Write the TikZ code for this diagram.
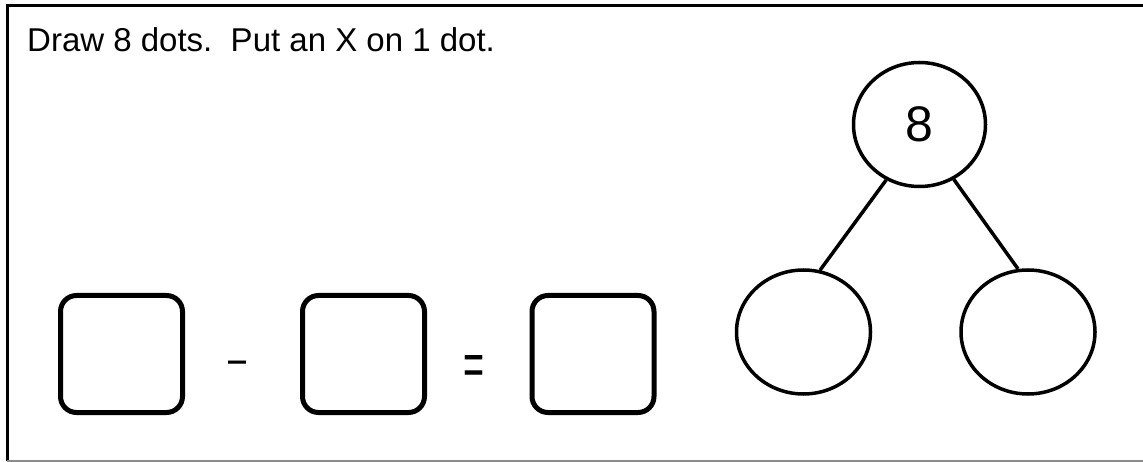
\documentclass[tikz,border=0pt]{standalone}
\usepackage{fontspec}
\setmainfont{Liberation Sans}
\usetikzlibrary{shapes.geometric}
\begin{document}
\begin{tikzpicture}[x=1pt,y=-1pt,
  answerbox/.style={draw, line width=5pt, rounded corners=16pt, minimum width=122pt, minimum height=117pt, inner sep=0pt},
  bond/.style={draw, ellipse, line width=3.5pt, inner sep=0pt},
  link/.style={line width=3.5pt},
  sym/.style={font=\fontsize{36}{40}\selectfont, inner sep=0pt, anchor=base}]
\useasboundingbox (0,0) rectangle (1143,462);
% frame
\draw[line width=3pt] (7,461) -- (7,6) -- (1160,6);
\draw[line width=2pt, black!45] (7,461) -- (1160,461);
% instruction
\node[anchor=base west, inner sep=0pt, font=\fontsize{33}{38}\selectfont] (title) at (27,52) {\frenchspacing Draw 8 dots.~ Put an X on 1 dot.};
% number sentence
\node[answerbox] (b1) at (121.5,354) {};
\node[answerbox] (b2) at (363.5,354) {};
\node[answerbox] (b3) at (593,354) {};
\node[sym] (minus) at (238,374) {\scalebox{0.9}[1.3]{–}};
\node[sym] (equals) at (474,385) {\scalebox{1}[1.7]{=}};
% number bond
\node[bond, minimum width=132pt, minimum height=124pt, font=\fontsize{50}{52}\selectfont] (whole) at (919.5,124.5) {8};
\node[bond, minimum width=134pt, minimum height=124pt] (partL) at (803.5,332) {};
\node[bond, minimum width=134pt, minimum height=124pt] (partR) at (1028,332) {};
\draw[link] (whole.239) -- (partL.75);
\draw[link] (whole.302) -- (partR.99);
\end{tikzpicture}
\end{document}
